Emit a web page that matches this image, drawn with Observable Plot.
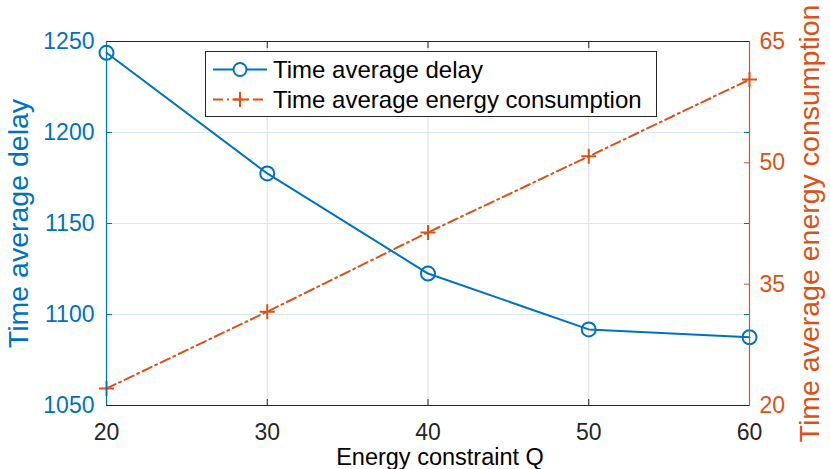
<!DOCTYPE html>
<html><head><meta charset="utf-8">
<script src="https://cdn.jsdelivr.net/npm/d3@7"></script>
<script src="https://cdn.jsdelivr.net/npm/@observablehq/plot@0.6"></script>
<style>body{margin:0;background:#fff;}</style>
</head><body><div id="chart"></div>
<script>
const Q = [20, 30, 40, 50, 60];
const delay = [1243.8, 1177.5, 1122.5, 1091.8, 1087.5];
const energy = [22.1, 31.6, 41.4, 50.8, 60.3];
const xTicks = [20, 30, 40, 50, 60];
const leftTicks = [1050, 1100, 1150, 1200, 1250];
const rightTicks = [20, 35, 50, 65];
const leftDomain = [1050, 1250];
const rightDomain = [20, 65];
const seriesNames = ["Time average delay", "Time average energy consumption"];

const toLeft = v => leftDomain[0] + (v - rightDomain[0]) * (leftDomain[1] - leftDomain[0]) / (rightDomain[1] - rightDomain[0]);
const toRight = v => rightDomain[0] + (v - leftDomain[0]) * (rightDomain[1] - rightDomain[0]) / (leftDomain[1] - leftDomain[0]);

const BLUE = "#0072BD", ORANGE = "#D95319", DARK = "#262626";
const FONT = "'Liberation Sans', Arial, Helvetica, sans-serif";
const DASH = "10,4,2,4";
const R_CIRCLE = 7, R_PLUS = 4.9;

const delayData = Q.map((q, i) => ({q, v: delay[i]}));
const energyData = Q.map((q, i) => ({q, v: toLeft(energy[i])}));

const plot = Plot.plot({
  width: 830, height: 469,
  marginLeft: 106, marginRight: 81, marginTop: 41, marginBottom: 64,
  style: {fontFamily: FONT, background: "#fff", overflow: "visible"},
  x: {domain: [20, 60]},
  y: {domain: leftDomain},
  marks: [
    Plot.gridX([30, 40, 50], {stroke: "#dedede", strokeOpacity: 1}),
    Plot.gridY([1100, 1150, 1200], {stroke: "#d9eaf5", strokeOpacity: 1}),
    Plot.line(energyData, {x: "q", y: "v", stroke: ORANGE, strokeWidth: 2, strokeDasharray: DASH}),
    Plot.dot(energyData, {x: "q", y: "v", symbol: "plus", stroke: ORANGE, strokeWidth: 2, r: R_PLUS}),
    Plot.line(delayData, {x: "q", y: "v", stroke: BLUE, strokeWidth: 2}),
    Plot.dot(delayData, {x: "q", y: "v", stroke: BLUE, fill: "none", strokeWidth: 2, r: R_CIRCLE}),
    Plot.axisX({anchor: "bottom", ticks: xTicks, tickFormat: d => String(d), tickSize: -6, tickPadding: 24, fontSize: 23, color: DARK, label: null}),
    Plot.axisX({anchor: "top", ticks: [30, 40, 50], tickSize: -6, tickFormat: () => "", color: DARK, label: null}),
    Plot.axisY({anchor: "left", ticks: leftTicks, tickFormat: d => String(d), tickSize: -6, tickPadding: 18, fontSize: 23, color: BLUE, label: null}),
    Plot.axisY({anchor: "right", ticks: [1100, 1150, 1200], tickSize: -6, tickFormat: () => "", color: BLUE, label: null}),
    Plot.axisY({anchor: "right", ticks: rightTicks.map(toLeft), tickFormat: d => String(Math.round(toRight(d))), tickSize: -6, tickPadding: 16, fontSize: 23, color: ORANGE, label: null}),
    Plot.ruleY([leftDomain[1]], {stroke: DARK, strokeWidth: 1.2}),
    Plot.ruleY([leftDomain[0]], {stroke: DARK, strokeWidth: 1.2}),
    Plot.ruleX([20], {stroke: BLUE, strokeWidth: 1.2}),
    Plot.ruleX([60], {stroke: ORANGE, strokeWidth: 1.2}),
    Plot.text(["Energy constraint Q"], {text: d => d, frameAnchor: "bottom", dy: 59, dx: 12, lineAnchor: "bottom", textAnchor: "middle", fontSize: 23.5, fill: "#000"}),
    Plot.text(["Time average delay"], {text: d => d, frameAnchor: "left", rotate: -90, dx: -79, lineAnchor: "bottom", textAnchor: "middle", fontSize: 28.5, fill: BLUE}),
    Plot.text(["Time average energy consumption"], {text: d => d, frameAnchor: "right", rotate: -90, dx: 69, lineAnchor: "bottom", textAnchor: "middle", fontSize: 28.5, fill: ORANGE})
  ]
});

// Legend (box inside the axes, top centre)
const svg = d3.select(plot);
const lg = svg.append("g").attr("font-family", FONT);
lg.append("rect").attr("x", 205.5).attr("y", 51.5).attr("width", 451).attr("height", 65)
  .attr("fill", "white").attr("stroke", DARK).attr("stroke-width", 1);
const rows = [
  {y: 69.5, color: BLUE, dash: null, symbol: "circle"},
  {y: 99.5, color: ORANGE, dash: DASH, symbol: "plus"}
];
rows.forEach((r, i) => {
  lg.append("line").attr("x1", 213).attr("x2", 267).attr("y1", r.y).attr("y2", r.y)
    .attr("stroke", r.color).attr("stroke-width", 2).attr("stroke-dasharray", r.dash);
  if (r.symbol === "circle") {
    lg.append("circle").attr("cx", 240).attr("cy", r.y).attr("r", 6.5)
      .attr("fill", "white").attr("stroke", r.color).attr("stroke-width", 2);
  } else {
    lg.append("path").attr("transform", `translate(240,${r.y})`)
      .attr("d", d3.symbol(d3.symbolPlus, R_PLUS * R_PLUS * Math.PI)())
      .attr("fill", "none").attr("stroke", r.color).attr("stroke-width", 2);
  }
  lg.append("text").attr("x", 273).attr("y", r.y + 8).attr("font-size", 24)
    .attr("text-anchor", "start").attr("fill", "#000")
    .text(seriesNames[i]);
});

document.getElementById("chart").appendChild(plot);
</script>
</body></html>
